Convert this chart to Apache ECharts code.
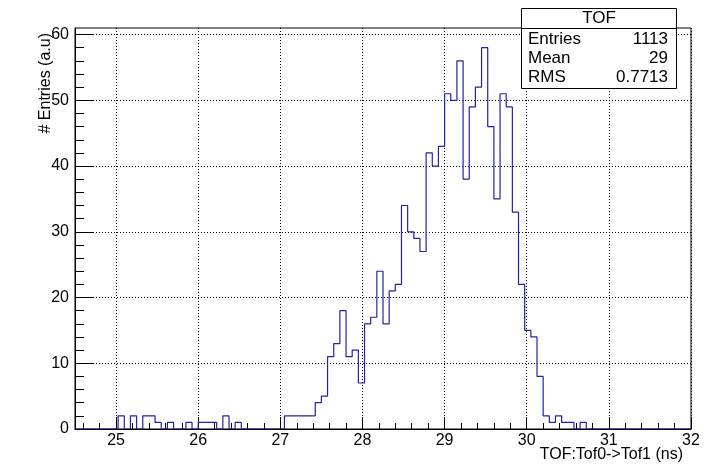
<!DOCTYPE html>
<html>
<head>
<meta charset="utf-8">
<script src="https://cdn.jsdelivr.net/npm/echarts@6/dist/echarts.min.js"></script>
<style>
  html, body { margin: 0; padding: 0; background: #fff; }
  #chart { width: 713px; height: 466px; }
</style>
</head>
<body>
<div id="chart"></div>
<script>
// Histogram binning: 100 bins of 0.075 ns starting at 24.5 ns
const binLow = 24.5;
const binWidth = 0.075;
const counts = [
  0, 0, 0, 0, 0, 0, 0, 2, 0, 2,
  0, 2, 2, 1, 0, 1, 0, 0, 1, 0,
  1, 1, 1, 0, 2, 0, 1, 0, 0, 0,
  0, 0, 0, 0, 2, 2, 2, 2, 2, 4,
  5, 11, 13, 18, 11, 12, 7, 16, 17, 24,
  16, 21, 22, 34, 30, 29, 27, 42, 40, 43,
  51, 50, 56, 38, 49, 52, 58, 46, 35, 51,
  49, 33, 22, 15, 14, 8, 2, 1, 2, 1,
  1, 0, 1, 0, 0, 0, 0, 0, 0, 0,
  0, 0, 0, 0, 0, 0, 0, 0, 0, 0
];

// Axis ticks and labels
const xMajorTicks = [25, 26, 27, 28, 29, 30, 31, 32];
const yMajorTicks = [0, 10, 20, 30, 40, 50, 60];
const xMinorStep = 0.2;
const yMinorStep = 2;

// Statistics box
const statsTitle = 'TOF';
const statsNames = ['Entries', 'Mean', 'RMS'];
const statsValues = ['1113', '29', '0.7713'];

const xTitle = 'TOF:Tof0->Tof1 (ns)';
const yTitle = '# Entries (a.u)';

const xMin = binLow;
const xMax = binLow + binWidth * counts.length;
const yMin = 0;
const yMax = 61;

// Step outline: one point per bin low edge, plus the last upper edge
const stepData = counts.map((c, i) => [+(binLow + i * binWidth).toFixed(4), c]);
stepData.push([+xMax.toFixed(4), counts[counts.length - 1]]);

function minorValues(lo, hi, step, majors) {
  const out = [];
  const n = Math.round((hi - lo) / step);
  for (let k = 0; k <= n; k++) {
    const v = +(lo + k * step).toFixed(4);
    if (v > lo && v < hi && !majors.some(m => Math.abs(m - v) < 1e-6)) out.push(v);
  }
  return out;
}
const xMinor = minorValues(24.4, 32, xMinorStep, xMajorTicks).filter(v => v > xMin);
const yMinor = minorValues(0, 60, yMinorStep, yMajorTicks);

const FONT = '"Liberation Sans", Arial, Helvetica, sans-serif';
const dotted = { color: '#000', width: 1, type: [1, 2] };
const hiddenLine = { show: true, onZero: false, lineStyle: { color: 'rgba(0,0,0,0)' } };

const chart = echarts.init(document.getElementById('chart'), null, { renderer: 'canvas' });

const statsRows = statsNames.map((name, i) => ([
  {
    type: 'text', z: 101,
    style: { x: 528, y: 39 + i * 19, text: name, fill: '#000', font: '17px ' + FONT, verticalAlign: 'middle', align: 'left' }
  },
  {
    type: 'text', z: 101,
    style: { x: 668, y: 39 + i * 19, text: statsValues[i], fill: '#000', font: '17px ' + FONT, verticalAlign: 'middle', align: 'right' }
  }
])).flat();

chart.setOption({
  animation: false,
  backgroundColor: '#fff',
  grid: {
    left: 75, right: 22, top: 28, bottom: 37,
    show: true, borderColor: '#000', borderWidth: 1, backgroundColor: 'transparent'
  },
  xAxis: [
    {
      type: 'value', min: xMin, max: xMax, position: 'bottom',
      axisLine: { show: true, onZero: false, lineStyle: { color: '#000', width: 1 } },
      axisTick: { show: true, inside: true, length: 12, customValues: xMajorTicks, lineStyle: { color: '#000' } },
      axisLabel: { show: true, customValues: xMajorTicks, color: '#000', fontSize: 16, fontFamily: FONT, margin: 4 },
      splitLine: { show: true, lineStyle: dotted }
    },
    {
      type: 'value', min: xMin, max: xMax, position: 'bottom',
      axisLine: hiddenLine,
      axisTick: { show: true, inside: true, length: 6, customValues: xMinor, lineStyle: { color: '#000' } },
      axisLabel: { show: false },
      splitLine: { show: false }
    }
  ],
  yAxis: [
    {
      type: 'value', min: yMin, max: yMax, position: 'left',
      axisLine: { show: true, onZero: false, lineStyle: { color: '#000', width: 1 } },
      axisTick: { show: true, inside: true, length: 18, customValues: yMajorTicks, lineStyle: { color: '#000' } },
      axisLabel: { show: true, customValues: yMajorTicks, color: '#000', fontSize: 16, fontFamily: FONT, margin: 6 },
      splitLine: { show: true, lineStyle: dotted }
    },
    {
      type: 'value', min: yMin, max: yMax, position: 'left',
      axisLine: hiddenLine,
      axisTick: { show: true, inside: true, length: 9, customValues: yMinor, lineStyle: { color: '#000' } },
      axisLabel: { show: false },
      splitLine: { show: false }
    }
  ],
  series: [
    {
      type: 'line',
      xAxisIndex: 0, yAxisIndex: 0,
      step: 'end',
      data: stepData,
      symbol: 'none',
      lineStyle: { color: '#2323a8', width: 1.2 },
      z: 5
    }
  ],
  graphic: [
    {
      type: 'text', z: 50,
      style: { x: 683, y: 455, text: xTitle, fill: '#000', font: '16px ' + FONT, align: 'right', verticalAlign: 'middle' }
    },
    {
      type: 'text', z: 50,
      x: 46, y: 33, rotation: Math.PI / 2,
      style: { x: 0, y: 0, text: yTitle, fill: '#000', font: '16px ' + FONT, align: 'right', verticalAlign: 'middle' }
    },
    {
      type: 'rect', z: 100,
      shape: { x: 521.5, y: 8.5, width: 155, height: 80 },
      style: { fill: '#fff', stroke: '#000', lineWidth: 1 }
    },
    {
      type: 'line', z: 101,
      shape: { x1: 521.5, y1: 28.5, x2: 676.5, y2: 28.5 },
      style: { stroke: '#000', lineWidth: 1 }
    },
    {
      type: 'text', z: 101,
      style: { x: 599, y: 18.5, text: statsTitle, fill: '#000', font: '17px ' + FONT, align: 'center', verticalAlign: 'middle' }
    },
    ...statsRows
  ]
});
</script>
</body>
</html>
